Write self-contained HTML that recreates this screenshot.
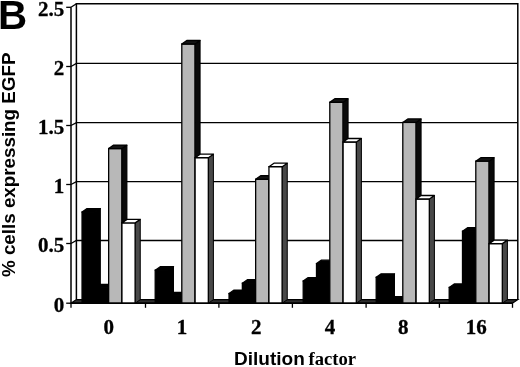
<!DOCTYPE html>
<html><head><meta charset="utf-8"><title>Chart</title>
<style>
html,body{margin:0;padding:0;background:#fff;}
body{width:520px;height:367px;overflow:hidden;position:relative;}
svg{position:absolute;left:0;top:0;}
.ser{font-family:"Liberation Serif",serif;font-weight:bold;font-size:21px;fill:#000;}
.lab{stroke:#000;stroke-width:0.3px;}
.san{font-family:"Liberation Sans",sans-serif;font-weight:bold;fill:#000;}
</style></head>
<body>
<svg width="520" height="367" viewBox="0 0 520 367">
<rect x="0" y="0" width="520" height="367" fill="#fff"/>
<polygon points="71,303.2 512.5,303.2 517.8,299.6 76.4,299.6" fill="#2e2e2e" stroke="#000" stroke-width="1.2"/>
<path d="M76.4 299.6 V3.7 H517.8 V299.6" fill="none" stroke="#000" stroke-width="1.5"/>
<path d="M71 243.5 L76.4 240.5 H517.8" fill="none" stroke="#000" stroke-width="1.3"/>
<path d="M71 184.5 L76.4 181.6 H517.8" fill="none" stroke="#000" stroke-width="1.3"/>
<path d="M71 125.5 L76.4 122.6 H517.8" fill="none" stroke="#000" stroke-width="1.3"/>
<path d="M71 66.5 L76.4 63.4 H517.8" fill="none" stroke="#000" stroke-width="1.3"/>
<path d="M71 7.3 L76.4 3.7" fill="none" stroke="#000" stroke-width="1.3"/>
<path d="M71 7.3 V303.2" fill="none" stroke="#000" stroke-width="1.5"/>
<path d="M66.2 303.2 H71" stroke="#000" stroke-width="1.3"/>
<path d="M66.2 243.5 H71" stroke="#000" stroke-width="1.3"/>
<path d="M66.2 184.5 H71" stroke="#000" stroke-width="1.3"/>
<path d="M66.2 125.5 H71" stroke="#000" stroke-width="1.3"/>
<path d="M66.2 66.5 H71" stroke="#000" stroke-width="1.3"/>
<path d="M66.2 7.3 H71" stroke="#000" stroke-width="1.3"/>
<rect x="82.05" y="212.06" width="13.3" height="91.14" fill="#000" stroke="#000" stroke-width="1.3"/>
<polygon points="95.35,303.2 95.35,212.06 100.35,208.56 100.35,299.7" fill="#000" stroke="#000" stroke-width="1"/>
<polygon points="82.05,212.06 95.35,212.06 100.35,208.56 87.05,208.56" fill="#000" stroke="#000" stroke-width="1.3" stroke-linejoin="round"/>
<rect x="95.35" y="287.87" width="13.3" height="15.33" fill="#000" stroke="#000" stroke-width="1.3"/>
<polygon points="108.65,303.2 108.65,287.87 113.65,284.37 113.65,299.7" fill="#000" stroke="#000" stroke-width="1"/>
<polygon points="95.35,287.87 108.65,287.87 113.65,284.37 100.35,284.37" fill="#000" stroke="#000" stroke-width="1.3" stroke-linejoin="round"/>
<rect x="108.65" y="148.55" width="13.3" height="154.65" fill="#b8b8b8" stroke="#000" stroke-width="1.3"/>
<polygon points="121.95,303.2 121.95,148.55 126.95,145.05 126.95,299.7" fill="#0a0a0a" stroke="#000" stroke-width="1"/>
<polygon points="108.65,148.55 121.95,148.55 126.95,145.05 113.65,145.05" fill="#141414" stroke="#000" stroke-width="1.3" stroke-linejoin="round"/>
<rect x="121.95" y="222.89" width="13.3" height="80.31" fill="#fff" stroke="#000" stroke-width="1.3"/>
<polygon points="135.25,303.2 135.25,222.89 140.25,219.39 140.25,299.7" fill="#484848" stroke="#000" stroke-width="1"/>
<polygon points="121.95,222.89 135.25,222.89 140.25,219.39 126.95,219.39" fill="#fff" stroke="#000" stroke-width="1.3" stroke-linejoin="round"/>
<rect x="155.2" y="270.16" width="13.3" height="33.04" fill="#000" stroke="#000" stroke-width="1.3"/>
<polygon points="168.5,303.2 168.5,270.16 173.5,266.66 173.5,299.7" fill="#000" stroke="#000" stroke-width="1"/>
<polygon points="155.2,270.16 168.5,270.16 173.5,266.66 160.2,266.66" fill="#000" stroke="#000" stroke-width="1.3" stroke-linejoin="round"/>
<rect x="168.5" y="295.84" width="13.3" height="7.36" fill="#000" stroke="#000" stroke-width="1.3"/>
<polygon points="181.8,303.2 181.8,295.84 186.8,292.34 186.8,299.7" fill="#000" stroke="#000" stroke-width="1"/>
<polygon points="168.5,295.84 181.8,295.84 186.8,292.34 173.5,292.34" fill="#000" stroke="#000" stroke-width="1.3" stroke-linejoin="round"/>
<rect x="181.8" y="43.99" width="13.3" height="259.21" fill="#b8b8b8" stroke="#000" stroke-width="1.3"/>
<polygon points="195.1,303.2 195.1,43.99 200.1,40.49 200.1,299.7" fill="#0a0a0a" stroke="#000" stroke-width="1"/>
<polygon points="181.8,43.99 195.1,43.99 200.1,40.49 186.8,40.49" fill="#141414" stroke="#000" stroke-width="1.3" stroke-linejoin="round"/>
<rect x="195.1" y="157.72" width="13.3" height="145.48" fill="#fff" stroke="#000" stroke-width="1.3"/>
<polygon points="208.4,303.2 208.4,157.72 213.4,154.22 213.4,299.7" fill="#484848" stroke="#000" stroke-width="1"/>
<polygon points="195.1,157.72 208.4,157.72 213.4,154.22 200.1,154.22" fill="#fff" stroke="#000" stroke-width="1.3" stroke-linejoin="round"/>
<rect x="229.05" y="293.55" width="13.3" height="9.65" fill="#000" stroke="#000" stroke-width="1.3"/>
<polygon points="242.35,303.2 242.35,293.55 247.35,290.05 247.35,299.7" fill="#000" stroke="#000" stroke-width="1"/>
<polygon points="229.05,293.55 242.35,293.55 247.35,290.05 234.05,290.05" fill="#000" stroke="#000" stroke-width="1.3" stroke-linejoin="round"/>
<rect x="242.35" y="283.2" width="13.3" height="20" fill="#000" stroke="#000" stroke-width="1.3"/>
<polygon points="255.65,303.2 255.65,283.2 260.65,279.7 260.65,299.7" fill="#000" stroke="#000" stroke-width="1"/>
<polygon points="242.35,283.2 255.65,283.2 260.65,279.7 247.35,279.7" fill="#000" stroke="#000" stroke-width="1.3" stroke-linejoin="round"/>
<rect x="255.65" y="179.24" width="13.3" height="123.96" fill="#b8b8b8" stroke="#000" stroke-width="1.3"/>
<polygon points="268.95,303.2 268.95,179.24 273.95,175.74 273.95,299.7" fill="#0a0a0a" stroke="#000" stroke-width="1"/>
<polygon points="255.65,179.24 268.95,179.24 273.95,175.74 260.65,175.74" fill="#141414" stroke="#000" stroke-width="1.3" stroke-linejoin="round"/>
<rect x="268.95" y="166.69" width="13.3" height="136.51" fill="#fff" stroke="#000" stroke-width="1.3"/>
<polygon points="282.25,303.2 282.25,166.69 287.25,163.19 287.25,299.7" fill="#484848" stroke="#000" stroke-width="1"/>
<polygon points="268.95,166.69 282.25,166.69 287.25,163.19 273.95,163.19" fill="#fff" stroke="#000" stroke-width="1.3" stroke-linejoin="round"/>
<rect x="303.2" y="281.03" width="13.3" height="22.17" fill="#000" stroke="#000" stroke-width="1.3"/>
<polygon points="316.5,303.2 316.5,281.03 321.5,277.53 321.5,299.7" fill="#000" stroke="#000" stroke-width="1"/>
<polygon points="303.2,281.03 316.5,281.03 321.5,277.53 308.2,277.53" fill="#000" stroke="#000" stroke-width="1.3" stroke-linejoin="round"/>
<rect x="316.5" y="263.64" width="13.3" height="39.56" fill="#000" stroke="#000" stroke-width="1.3"/>
<polygon points="329.8,303.2 329.8,263.64 334.8,260.14 334.8,299.7" fill="#000" stroke="#000" stroke-width="1"/>
<polygon points="316.5,263.64 329.8,263.64 334.8,260.14 321.5,260.14" fill="#000" stroke="#000" stroke-width="1.3" stroke-linejoin="round"/>
<rect x="329.8" y="102.26" width="13.3" height="200.94" fill="#b8b8b8" stroke="#000" stroke-width="1.3"/>
<polygon points="343.1,303.2 343.1,102.26 348.1,98.76 348.1,299.7" fill="#0a0a0a" stroke="#000" stroke-width="1"/>
<polygon points="329.8,102.26 343.1,102.26 348.1,98.76 334.8,98.76" fill="#141414" stroke="#000" stroke-width="1.3" stroke-linejoin="round"/>
<rect x="343.1" y="142" width="13.3" height="161.2" fill="#fff" stroke="#000" stroke-width="1.3"/>
<polygon points="356.4,303.2 356.4,142 361.4,138.5 361.4,299.7" fill="#484848" stroke="#000" stroke-width="1"/>
<polygon points="343.1,142 356.4,142 361.4,138.5 348.1,138.5" fill="#fff" stroke="#000" stroke-width="1.3" stroke-linejoin="round"/>
<rect x="376.2" y="277.35" width="13.3" height="25.85" fill="#000" stroke="#000" stroke-width="1.3"/>
<polygon points="389.5,303.2 389.5,277.35 394.5,273.85 394.5,299.7" fill="#000" stroke="#000" stroke-width="1"/>
<polygon points="376.2,277.35 389.5,277.35 394.5,273.85 381.2,273.85" fill="#000" stroke="#000" stroke-width="1.3" stroke-linejoin="round"/>
<rect x="389.5" y="300.22" width="13.3" height="2.98" fill="#000" stroke="#000" stroke-width="1.3"/>
<polygon points="402.8,303.2 402.8,300.22 407.8,296.72 407.8,299.7" fill="#000" stroke="#000" stroke-width="1"/>
<polygon points="389.5,300.22 402.8,300.22 407.8,296.72 394.5,296.72" fill="#000" stroke="#000" stroke-width="1.3" stroke-linejoin="round"/>
<rect x="402.8" y="122.43" width="13.3" height="180.77" fill="#b8b8b8" stroke="#000" stroke-width="1.3"/>
<polygon points="416.1,303.2 416.1,122.43 421.1,118.93 421.1,299.7" fill="#0a0a0a" stroke="#000" stroke-width="1"/>
<polygon points="402.8,122.43 416.1,122.43 421.1,118.93 407.8,118.93" fill="#141414" stroke="#000" stroke-width="1.3" stroke-linejoin="round"/>
<rect x="416.1" y="199.01" width="13.3" height="104.19" fill="#fff" stroke="#000" stroke-width="1.3"/>
<polygon points="429.4,303.2 429.4,199.01 434.4,195.51 434.4,299.7" fill="#484848" stroke="#000" stroke-width="1"/>
<polygon points="416.1,199.01 429.4,199.01 434.4,195.51 421.1,195.51" fill="#fff" stroke="#000" stroke-width="1.3" stroke-linejoin="round"/>
<rect x="449.2" y="287.42" width="13.3" height="15.78" fill="#000" stroke="#000" stroke-width="1.3"/>
<polygon points="462.5,303.2 462.5,287.42 467.5,283.92 467.5,299.7" fill="#000" stroke="#000" stroke-width="1"/>
<polygon points="449.2,287.42 462.5,287.42 467.5,283.92 454.2,283.92" fill="#000" stroke="#000" stroke-width="1.3" stroke-linejoin="round"/>
<rect x="462.5" y="231.18" width="13.3" height="72.02" fill="#000" stroke="#000" stroke-width="1.3"/>
<polygon points="475.8,303.2 475.8,231.18 480.8,227.68 480.8,299.7" fill="#000" stroke="#000" stroke-width="1"/>
<polygon points="462.5,231.18 475.8,231.18 480.8,227.68 467.5,227.68" fill="#000" stroke="#000" stroke-width="1.3" stroke-linejoin="round"/>
<rect x="475.8" y="161.16" width="13.3" height="142.04" fill="#b8b8b8" stroke="#000" stroke-width="1.3"/>
<polygon points="489.1,303.2 489.1,161.16 494.1,157.66 494.1,299.7" fill="#0a0a0a" stroke="#000" stroke-width="1"/>
<polygon points="475.8,161.16 489.1,161.16 494.1,157.66 480.8,157.66" fill="#141414" stroke="#000" stroke-width="1.3" stroke-linejoin="round"/>
<rect x="489.1" y="243.64" width="13.3" height="59.56" fill="#fff" stroke="#000" stroke-width="1.3"/>
<polygon points="502.4,303.2 502.4,243.64 507.4,240.14 507.4,299.7" fill="#484848" stroke="#000" stroke-width="1"/>
<polygon points="489.1,243.64 502.4,243.64 507.4,240.14 494.1,240.14" fill="#fff" stroke="#000" stroke-width="1.3" stroke-linejoin="round"/>
<path d="M71 303.2 H512.5" stroke="#000" stroke-width="1.5"/>
<path d="M71 303.2 V307.8" stroke="#000" stroke-width="1.3"/>
<path d="M145.5 303.2 V307.8" stroke="#000" stroke-width="1.3"/>
<path d="M218.9 303.2 V307.8" stroke="#000" stroke-width="1.3"/>
<path d="M292.4 303.2 V307.8" stroke="#000" stroke-width="1.3"/>
<path d="M366.1 303.2 V307.8" stroke="#000" stroke-width="1.3"/>
<path d="M439.4 303.2 V307.8" stroke="#000" stroke-width="1.3"/>
<path d="M512.5 303.2 V307.8" stroke="#000" stroke-width="1.3"/>
<text x="64.3" y="312" class="ser lab" text-anchor="end">0</text>
<text x="64.3" y="251.5" class="ser lab" text-anchor="end">0.5</text>
<text x="64.3" y="193.3" class="ser lab" text-anchor="end">1</text>
<text x="64.3" y="134.3" class="ser lab" text-anchor="end">1.5</text>
<text x="64.3" y="75.3" class="ser lab" text-anchor="end">2</text>
<text x="64.3" y="16.1" class="ser lab" text-anchor="end">2.5</text>
<text x="108.85" y="334.3" class="ser lab" text-anchor="middle">0</text>
<text x="181.9" y="334.3" class="ser lab" text-anchor="middle">1</text>
<text x="256.35" y="334.3" class="ser lab" text-anchor="middle">2</text>
<text x="329.95" y="334.3" class="ser lab" text-anchor="middle">4</text>
<text x="403.15" y="334.3" class="ser lab" text-anchor="middle">8</text>
<text x="476.15" y="334.3" class="ser lab" text-anchor="middle">16</text>
<text x="-2" y="29.3" class="san" font-size="40.4">B</text>
<text class="san" font-size="18.8" text-anchor="middle" transform="translate(14.5 164.8) rotate(-90)">% cells expressing EGFP</text>
<text x="234.1" y="365.3" class="san" font-size="19">Dilution</text>
<text x="308.6" y="365.2" class="ser" style="font-size:18.6px">factor</text>
</svg>
</body></html>
